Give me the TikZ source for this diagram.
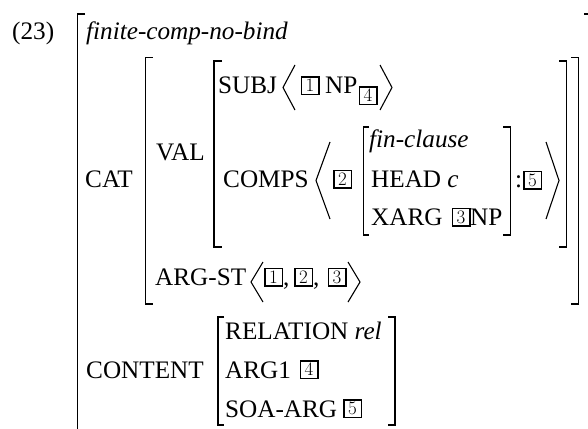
\documentclass[tikz,border=0pt]{standalone}
\usepackage{fontspec}
\newfontfamily\tms{Liberation Serif}
\newcommand\txtsize{\tms\fontsize{25.2}{30}\selectfont}
\newcommand\digsize{\rmfamily\fontsize{19}{19}\selectfont}
\tikzset{
  txt/.style={anchor=base west, inner sep=0pt, font=\txtsize},
  nbox/.style={draw, line width=1.5pt, minimum width=17.5pt, minimum height=17.5pt, inner sep=0pt, font=\digsize},
  brk/.style={line width=1.4pt},
  ang/.style={line width=1.1pt}
}
\begin{document}
\begin{tikzpicture}[x=1pt,y=-1pt]
\useasboundingbox (0,0) rectangle (588,428);
% outer row
\node[txt] (num) at (12,40) {(23)};
\node[txt] (type) at (86,40) {\itshape finite-comp-no-bind};
\draw[brk] (85,14) -- (77.7,14) -- (77.7,440);
\draw[brk] (584,14) -- (590,14) -- (590,440);
% CAT
\node[txt] (cat) at (85,187) {CAT};
\draw[brk] (152.7,57.5) -- (145.5,57.5) -- (145.5,304) -- (152.7,304);
\draw[brk] (571,57.5) -- (578.3,57.5) -- (578.3,304) -- (571,304);
% VAL
\node[txt] (val) at (156,160.7) {VAL};
\draw[brk] (222,61) -- (214,61) -- (214,247) -- (222,247);
\draw[brk] (559,61) -- (566.7,61) -- (566.7,247) -- (559,247);
% SUBJ
\node[txt] (subj) at (218,93) {SUBJ};
\draw[ang] (295,65) -- (283,87.5) -- (295,110);
\node[nbox] (s1) at (310,85.5) {1};
\node[txt] (np1) at (325,93) {NP};
\node[nbox] (s4) at (368,95.5) {4};
\draw[ang] (380,65) -- (392,87.5) -- (380,110);
% COMPS
\node[txt] (comps) at (223,187) {COMPS};
\draw[ang] (330,142) -- (316,180.5) -- (330,219);
\node[nbox] (c2) at (342.5,179) {2};
\draw[brk] (369,127) -- (363.3,127) -- (363.3,235) -- (369,235);
\node[txt] (fin) at (369,147) {\itshape fin-clause};
\node[txt] (head) at (371,187) {HEAD \itshape c};
\node[txt] (xarg) at (371,225) {XARG};
\node[nbox] (c3) at (461,217) {3};
\node[txt] (np2) at (470,225) {NP};
\draw[brk] (503,127) -- (510.5,127) -- (510.5,235) -- (503,235);
\node[txt] (colon) at (515,187) {:};
\node[nbox] (c5) at (532.5,180) {5};
\draw[ang] (546,142) -- (559,180.5) -- (546,219);
% ARG-ST
\node[txt] (argst) at (155,285) {ARG-ST};
\draw[ang] (263,262) -- (251,282) -- (263,302);
\node[nbox] (a1) at (273.5,277) {1};
\node[txt] (cm1) at (283,285) {,};
\node[nbox] (a2) at (303.5,277) {2};
\node[txt] (cm2) at (313,285) {,};
\node[nbox] (a3) at (337,277) {3};
\draw[ang] (348,262) -- (360,282) -- (348,302);
% CONTENT
\node[txt] (content) at (86,378) {CONTENT};
\draw[brk] (224,317) -- (218,317) -- (218,425) -- (224,425);
\draw[brk] (388,317) -- (395,317) -- (395,425) -- (388,425);
\node[txt] (rel) at (225,339) {RELATION \itshape rel};
\node[txt] (arg1) at (225,378) {ARG1};
\node[nbox] (r4) at (309,369.5) {4};
\node[txt] (soa) at (225,417) {SOA-ARG};
\node[nbox] (r5) at (352.5,408.5) {5};
\end{tikzpicture}
\end{document}
